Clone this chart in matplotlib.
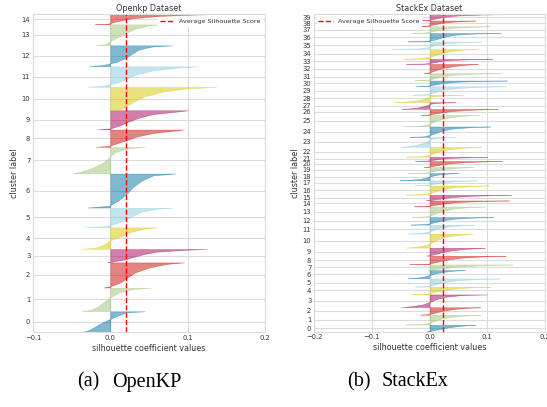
import numpy as np
import matplotlib
matplotlib.use("Agg")
import matplotlib.pyplot as plt

# Fractions of each (sorted) cluster at which silhouette values were read
FRACTIONS = [0.0, 0.05, 0.2, 0.4, 0.6, 0.8, 0.95, 1.0]

# ---------------- OpenKP ----------------
openkp_sizes = [828, 944, 1016, 532, 868, 784, 1376, 1064, 696, 772, 932, 828, 840, 840, 400]
openkp_profiles = [
    [-0.036, -0.030, -0.022, -0.013, -0.002, 0.010, 0.020, 0.045],   # 0
    [-0.037, -0.025, -0.016, -0.008, 0.000, 0.012, 0.030, 0.052],    # 1
    [-0.009, 0.000, 0.013, 0.022, 0.032, 0.050, 0.075, 0.095],       # 2
    [-0.004, 0.003, 0.018, 0.030, 0.042, 0.060, 0.100, 0.125],       # 3
    [-0.037, -0.020, -0.008, 0.000, 0.015, 0.028, 0.045, 0.060],     # 4
    [-0.034, -0.005, 0.008, 0.020, 0.030, 0.040, 0.060, 0.080],      # 5
    [-0.030, -0.002, 0.010, 0.021, 0.029, 0.041, 0.056, 0.084],      # 6
    [-0.048, -0.040, -0.024, -0.010, -0.002, 0.006, 0.022, 0.045],   # 7
    [-0.019, -0.002, 0.008, 0.022, 0.034, 0.055, 0.085, 0.095],      # 8
    [-0.017, 0.000, 0.012, 0.023, 0.036, 0.055, 0.090, 0.100],       # 9
    [0.005, 0.015, 0.022, 0.032, 0.045, 0.068, 0.100, 0.137],        # 10
    [-0.030, -0.010, 0.009, 0.021, 0.033, 0.055, 0.090, 0.114],      # 11
    [-0.028, -0.010, 0.008, 0.020, 0.028, 0.037, 0.055, 0.080],      # 12
    [-0.0185, -0.006, 0.000, 0.011, 0.021, 0.033, 0.050, 0.062],     # 13
    [-0.020, -0.003, 0.004, 0.015, 0.028, 0.060, 0.100, 0.125],      # 14
]
openkp_avg = 0.020

# ---------------- StackEx ----------------
stackex_sizes = [268, 400, 304, 520, 308, 332, 336, 224, 348, 320,
                 572, 360, 308, 428, 240, 224, 376, 200, 292, 240,
                 240, 160, 400, 400, 428, 464, 240, 268, 292, 348,
                 228, 292, 372, 200, 400, 296, 344, 268, 228, 252]
stackex_profiles = [
    [-0.005, 0.002, 0.010, 0.020, 0.032, 0.050, 0.068, 0.080],    # 0
    [-0.042, -0.012, 0.000, 0.010, 0.020, 0.038, 0.065, 0.088],   # 1
    [-0.016, -0.002, 0.006, 0.016, 0.028, 0.047, 0.072, 0.088],   # 2
    [-0.050, -0.035, -0.012, 0.000, 0.010, 0.025, 0.055, 0.100],  # 3
    [-0.033, -0.008, 0.004, 0.015, 0.027, 0.047, 0.080, 0.105],   # 4
    [-0.025, -0.004, 0.006, 0.017, 0.030, 0.050, 0.090, 0.122],   # 5
    [-0.037, -0.025, -0.010, 0.000, 0.010, 0.025, 0.045, 0.061],  # 6
    [-0.003, 0.004, 0.015, 0.030, 0.050, 0.080, 0.120, 0.143],    # 7
    [-0.035, -0.004, 0.008, 0.020, 0.035, 0.060, 0.100, 0.132],   # 8
    [-0.005, 0.002, 0.010, 0.020, 0.032, 0.052, 0.080, 0.096],    # 9
    [-0.042, -0.025, -0.005, 0.006, 0.015, 0.030, 0.055, 0.075],  # 10
    [-0.037, -0.015, -0.003, 0.006, 0.016, 0.032, 0.058, 0.077],  # 11
    [-0.033, -0.008, 0.003, 0.013, 0.024, 0.045, 0.080, 0.110],   # 12
    [-0.031, -0.006, 0.004, 0.014, 0.025, 0.042, 0.070, 0.096],   # 13
    [-0.027, -0.004, 0.006, 0.020, 0.035, 0.060, 0.100, 0.138],   # 14
    [-0.006, 0.002, 0.012, 0.025, 0.040, 0.070, 0.110, 0.141],    # 15
    [-0.041, -0.008, 0.003, 0.013, 0.024, 0.042, 0.075, 0.103],   # 16
    [-0.026, -0.006, 0.003, 0.012, 0.022, 0.040, 0.065, 0.082],   # 17
    [-0.052, -0.035, -0.015, -0.004, 0.004, 0.015, 0.035, 0.050], # 18
    [-0.038, -0.010, 0.002, 0.012, 0.022, 0.040, 0.062, 0.075],   # 19
    [-0.010, 0.000, 0.008, 0.020, 0.035, 0.060, 0.100, 0.126],    # 20
    [-0.025, -0.005, 0.004, 0.014, 0.026, 0.045, 0.080, 0.100],   # 21
    [-0.041, -0.012, 0.000, 0.010, 0.020, 0.037, 0.065, 0.090],   # 22
    [-0.050, -0.040, -0.022, -0.010, -0.003, 0.003, 0.020, 0.044],# 23
    [-0.035, -0.010, 0.002, 0.012, 0.022, 0.040, 0.075, 0.105],   # 24
    [-0.050, -0.015, -0.002, 0.008, 0.018, 0.035, 0.065, 0.087],  # 25
    [-0.015, 0.000, 0.008, 0.020, 0.035, 0.060, 0.095, 0.118],    # 26
    [-0.048, -0.035, -0.020, -0.010, -0.003, 0.003, 0.020, 0.045],# 27
    [-0.062, -0.045, -0.025, -0.012, -0.004, 0.004, 0.025, 0.058],# 28
    [-0.030, -0.006, 0.004, 0.015, 0.028, 0.050, 0.095, 0.133],   # 29
    [-0.023, -0.004, 0.005, 0.015, 0.028, 0.050, 0.095, 0.134],   # 30
    [-0.026, -0.006, 0.004, 0.014, 0.025, 0.045, 0.085, 0.125],   # 31
    [-0.010, 0.000, 0.006, 0.015, 0.026, 0.045, 0.070, 0.084],    # 32
    [-0.041, -0.010, 0.003, 0.012, 0.022, 0.040, 0.075, 0.109],   # 33
    [-0.044, -0.015, 0.000, 0.012, 0.022, 0.038, 0.060, 0.083],   # 34
    [-0.064, -0.020, -0.004, 0.005, 0.015, 0.030, 0.060, 0.089],  # 35
    [-0.038, -0.005, 0.008, 0.018, 0.028, 0.045, 0.080, 0.123],   # 36
    [-0.032, -0.008, 0.004, 0.013, 0.024, 0.045, 0.080, 0.105],   # 37
    [-0.038, -0.010, 0.003, 0.012, 0.022, 0.040, 0.065, 0.079],   # 38
    [-0.015, -0.003, 0.006, 0.015, 0.028, 0.050, 0.090, 0.118],   # 39
]
stackex_avg = 0.023

titles = ["Openkp Dataset", "StackEx Dataset"]
caption_tags = ["(a)", "(b)"]
caption_names = ["OpenKP", "StackEx"]
xlims = [(-0.1, 0.2), (-0.2, 0.2)]
xticks = [[-0.1, 0.0, 0.1, 0.2], [-0.2, -0.1, 0.0, 0.1, 0.2]]

PALETTE = ["#0272a2", "#9fc377", "#ca0b03", "#a50258", "#d7c703", "#88cada"]
GRID = "#dcdcdc"
TXT = "#333333"

fig = plt.figure(figsize=(5.47, 4.07), dpi=100)
W, H = 547.0, 407.0
rects = [
    [33 / W, (H - 332) / H, 232 / W, 318 / H],
    [314 / W, (H - 331.5) / H, 231 / W, 317.5 / H],
]


def draw(ax, sizes, profiles, avg, title, xlim, xt, legend_loc):
    y_lower = 10
    ticks = []
    fr = np.array(FRACTIONS)
    for idx, (size, prof) in enumerate(zip(sizes, profiles)):
        y = y_lower + fr * size
        c = PALETTE[idx % len(PALETTE)]
        ax.fill_betweenx(y, 0, prof, facecolor=c, edgecolor=c, alpha=0.5, linewidth=0.4)
        ticks.append(y_lower + 0.5 * size)
        y_lower = y_lower + size + 10
    ax.set_ylim(0, sum(sizes) + (len(sizes) + 1) * 10)
    ax.set_yticks(ticks)
    ax.set_yticklabels([str(i) for i in range(len(sizes))])
    ax.set_xlim(*xlim)
    ax.set_xticks(xt)
    ax.axvline(avg, color="red", linestyle="--", linewidth=1.0, label="Average Silhouette Score")
    ax.set_title(title, fontsize=5.8, color=TXT, pad=2)
    ax.set_xlabel("silhouette coefficient values", fontsize=5.8, color=TXT, labelpad=2)
    ax.set_ylabel("cluster label", fontsize=5.8, color=TXT, labelpad=2)
    ax.tick_params(axis="both", length=0, labelsize=4.9, labelcolor=TXT, pad=2)
    ax.grid(True, color=GRID, linewidth=0.8)
    ax.set_axisbelow(True)
    for s in ax.spines.values():
        s.set_color(GRID)
        s.set_linewidth(0.8)
    leg = ax.legend(loc=legend_loc, fontsize=4.6, frameon=True, facecolor="white",
                    edgecolor="white", framealpha=1.0, handlelength=2.2,
                    borderpad=0.3, borderaxespad=0.4)
    for t in leg.get_texts():
        t.set_color(TXT)


ax1 = fig.add_axes(rects[0])
draw(ax1, openkp_sizes, openkp_profiles, openkp_avg, titles[0], xlims[0], xticks[0], "upper right")
ax2 = fig.add_axes(rects[1])
draw(ax2, stackex_sizes, stackex_profiles, stackex_avg, titles[1], xlims[1], xticks[1], "upper left")

tag_x = [77, 347]
name_x = [112, 382]
for i in range(2):
    fig.text(tag_x[i] / W, 1 - 382 / H, caption_tags[i], ha="left", va="center",
             fontsize=14.5, family="Liberation Serif", color="black")
    fig.text(name_x[i] / W, 1 - 382 / H, caption_names[i], ha="left", va="center",
             fontsize=14.5, family="Liberation Serif", color="black")

fig.savefig("out.png", dpi=100)
